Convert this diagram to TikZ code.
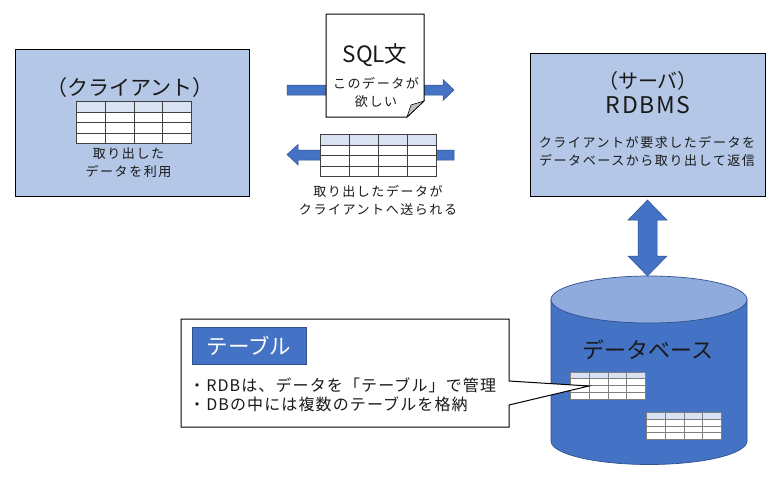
\documentclass[tikz,border=0pt]{standalone}
\usepackage{fontspec}
\setmainfont{Noto Sans CJK JP}[Scale=1]
\newfontfamily\spaced{Noto Sans CJK JP}[LetterSpace=12]
\newfontfamily\wide{Noto Sans CJK JP}[LetterSpace=7]
\usetikzlibrary{calc}
\definecolor{boxblue}{HTML}{B4C7E7}
\definecolor{mainblue}{HTML}{4472C4}
\definecolor{edgeblue}{HTML}{2F528F}
\definecolor{topblue}{HTML}{8FAADC}
\definecolor{headblue}{HTML}{D9E2F3}
\tikzset{
  x=1pt,y=-1pt,
  flow/.style={fill=mainblue,draw=edgeblue,line width=0.5pt},
  txt/.style={inner sep=0pt,text=black!90,align=center},
  big/.style={txt,font=\fontsize{21}{26}\selectfont},
  small/.style={txt,font=\spaced\fontsize{13}{18}\selectfont},
}
% #1 x, #2 y, #3 w, #4 h, #5 line colour
\newcommand{\dbtable}[5]{%
  \fill[white] (#1,#2) rectangle ++(#3,#4);
  \fill[headblue] (#1,#2) rectangle ++(#3,#4/4);
  \foreach \r in {1,2,3}{\draw[#5,line width=1pt] (#1,#2+\r*#4/4) -- ++(#3,0);}
  \foreach \c in {1,2,3}{\draw[#5,line width=1pt] (#1+\c*#3/4,#2) -- ++(0,#4);}
  \draw[#5,line width=1pt] (#1,#2) rectangle ++(#3,#4);
}
\begin{document}
\begin{tikzpicture}
\useasboundingbox (0,0) rectangle (775,480);
\fill[white] (0,0) rectangle (775,480);
% client
\draw[draw=black,line width=1pt,fill=boxblue] (15,49.5) rectangle (249,196);
\node[big] (client) at (130,88) {（クライアント）};
\dbtable{76.5}{101.5}{115}{42}{black!75}
\node[small] (clientuse) at (128.5,162.5) {取り出した\\データを利用};
% upper arrow + document
\draw[flow] (287,85) -- (443,85) -- (443,79.5) -- (454,90) -- (443,100.5) -- (443,95) -- (287,95) -- cycle;
\draw[black,line width=1pt,fill=white] (326,14) -- (424,14) -- (424,101) -- (407,117) -- (326,117) -- cycle;
\draw[black,line width=0.6pt,fill=black!25] (424,101) -- (411,105) -- (407,117) -- cycle;
\node[txt,font=\fontsize{22.5}{26}\selectfont] (sql) at (375,55) {SQL文};
\node[small] (want) at (376,92.5) {このデータが\\欲しい};
% lower arrow + table
\draw[flow] (454,150) -- (298,150) -- (298,144.5) -- (287,154.5) -- (298,165) -- (298,160) -- (454,160) -- cycle;
\dbtable{320.5}{134.5}{116}{42}{black!75}
\node[small] (sent) at (378,200) {取り出したデータが\\クライアントへ送られる};
% server
\draw[draw=black,line width=1pt,fill=boxblue] (530,53) rectangle (765,196);
\node[txt,font=\fontsize{20}{25}\selectfont] (server) at (648,93) {（サーバ）\\{\wide\fontsize{23}{25}\selectfont RDBMS}};
\node[small] (serverdesc) at (647,151) {クライアントが要求したデータを\\データベースから取り出して返信};
% double arrow
\draw[flow] (647.5,200) -- (667,220) -- (657,220) -- (657,256) -- (667,256) -- (647.5,276) -- (628,256) -- (638,256) -- (638,220) -- (628,220) -- cycle;
% cylinder
\draw[fill=mainblue,draw=edgeblue,line width=0.7pt] (551,299.5) -- (551,441) arc[start angle=180,end angle=360,x radius=98,y radius=-23.5] -- (747,299.5) -- cycle;
\draw[fill=topblue,draw=edgeblue,line width=0.7pt] (649,299.5) ellipse[x radius=98,y radius=23.5];
\node[txt,font=\fontsize{22}{26}\selectfont] (dbname) at (648,350) {データベース};
\dbtable{570.5}{372}{75}{27}{black!50}
\dbtable{646.5}{412.5}{75}{27}{black!50}
% callout
\draw[black,line width=1pt,fill=white] (181,319) -- (509,319) -- (509,381) -- (589,386) -- (509,405) -- (509,427) -- (181,427) -- cycle;
\node[fill=mainblue,draw=edgeblue,line width=0.5pt,text=white,font=\fontsize{21.5}{24}\selectfont,inner sep=0pt,minimum width=113.5pt,minimum height=37pt] (tablelabel) at (249,345.5) {テーブル};
\node[txt,anchor=west,align=left,font=\wide\fontsize{16}{19}\selectfont] (tabletext) at (189,394.5) {・RDBは、データを「テーブル」で管理\\・DBの中には複数のテーブルを格納};
\end{tikzpicture}
\end{document}
